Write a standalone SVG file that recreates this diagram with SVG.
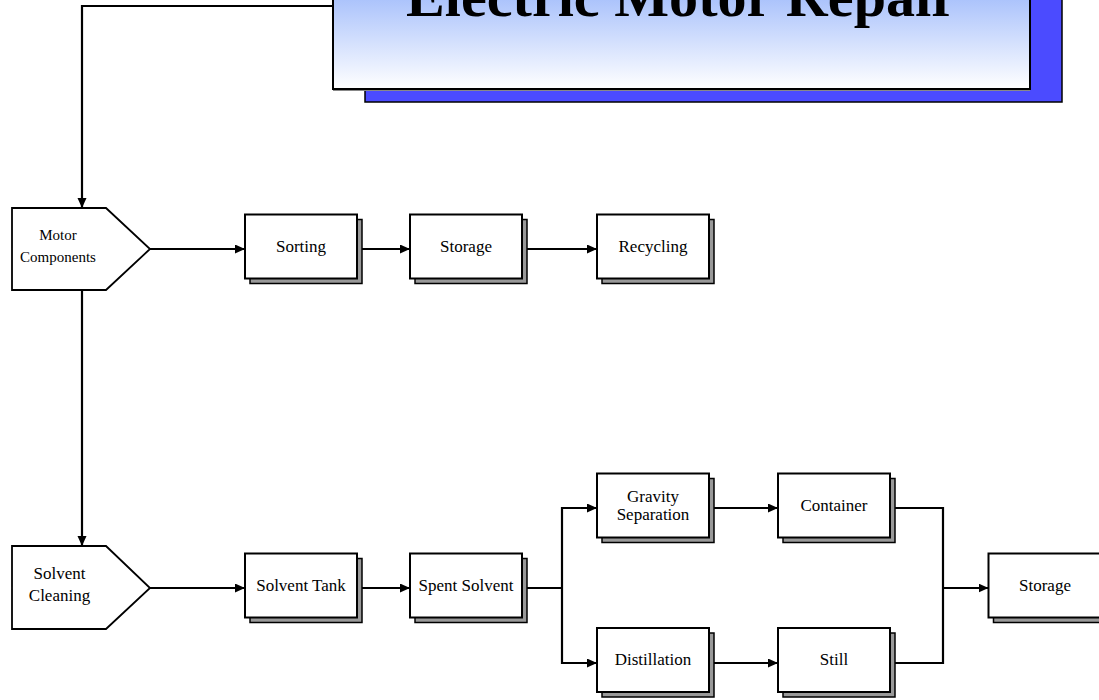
<svg xmlns="http://www.w3.org/2000/svg" width="1099" height="700" viewBox="0 0 1099 700">
<defs>
<linearGradient id="titleGrad" x1="0" y1="0" x2="0" y2="1">
<stop offset="0" stop-color="#a3bdfb"/>
<stop offset="1" stop-color="#ffffff"/>
</linearGradient>
<marker id="arrow" markerUnits="userSpaceOnUse" markerWidth="11" markerHeight="10" refX="10" refY="4.5" orient="auto">
<path d="M0,0 L10,4.5 L0,9 z" fill="#000"/>
</marker>
<style>
.shadow{fill:#999999;stroke:#000;stroke-width:1.5}
.box{fill:#ffffff;stroke:#000;stroke-width:2}
.lbl{font-family:"Liberation Serif","Times New Roman",serif;font-size:17px;fill:#000;text-anchor:middle}
.small{font-size:15px}
.conn{fill:none;stroke:#000;stroke-width:2.2}
.arr{marker-end:url(#arrow)}
</style>
</defs>
<rect width="1099" height="700" fill="#ffffff"/>

<g id="connectors">
<polyline class="conn arr" points="333,6 82,6 82,208"/>
<line class="conn arr" x1="82" y1="290" x2="82" y2="546"/>
<line class="conn arr" x1="150" y1="249" x2="245" y2="249"/>
<line class="conn arr" x1="362" y1="249" x2="410" y2="249"/>
<line class="conn arr" x1="527" y1="249" x2="597" y2="249"/>
<line class="conn arr" x1="150" y1="588" x2="245" y2="588"/>
<line class="conn arr" x1="362" y1="588" x2="410" y2="588"/>
<line class="conn" x1="527" y1="588" x2="562" y2="588"/>
<line class="conn" x1="562" y1="507" x2="562" y2="664"/>
<line class="conn arr" x1="561" y1="508" x2="597" y2="508"/>
<line class="conn arr" x1="561" y1="663" x2="597" y2="663"/>
<line class="conn arr" x1="714" y1="508" x2="778" y2="508"/>
<line class="conn arr" x1="714" y1="663" x2="778" y2="663"/>
<polyline class="conn" points="895,508 943,508 943,663 895,663"/>
<line class="conn arr" x1="943" y1="588" x2="988.5" y2="588"/>
</g>

<g id="title">
<rect x="365" y="-10" width="697" height="112" fill="#4b4bff" stroke="#000" stroke-width="1.5"/>
<rect x="333" y="-10" width="697" height="99" fill="url(#titleGrad)" stroke="#000" stroke-width="2"/>
<line x1="333" y1="90.5" x2="1030" y2="90.5" stroke="#888" stroke-width="1"/>
<text x="681.5" y="16" font-family="'Liberation Serif','Times New Roman',serif" font-weight="bold" font-size="58" text-anchor="middle" textLength="551" lengthAdjust="spacingAndGlyphs">Electric Motor Repair</text>
</g>

<g id="motor-components">
<polygon points="12,208 106,208 150,249 106,290 12,290" fill="#fff" stroke="#000" stroke-width="1.8"/>
<text class="lbl small" x="58" y="240">Motor</text>
<text class="lbl small" x="58" y="262">Components</text>
</g>

<g id="solvent-cleaning">
<polygon points="12,546 106,546 150,588 106,629 12,629" fill="#fff" stroke="#000" stroke-width="1.8"/>
<text class="lbl" x="59.5" y="579">Solvent</text>
<text class="lbl" x="59.5" y="601">Cleaning</text>
</g>

<g id="sorting">
<rect class="shadow" x="250" y="219.5" width="112" height="64"/>
<rect class="box" x="245" y="214.5" width="112" height="64"/>
<text class="lbl" x="301" y="252">Sorting</text>
</g>

<g id="storage-1">
<rect class="shadow" x="415" y="219.5" width="112" height="64"/>
<rect class="box" x="410" y="214.5" width="112" height="64"/>
<text class="lbl" x="466" y="252">Storage</text>
</g>

<g id="recycling">
<rect class="shadow" x="602" y="219.5" width="112" height="64"/>
<rect class="box" x="597" y="214.5" width="112" height="64"/>
<text class="lbl" x="653" y="252">Recycling</text>
</g>

<g id="solvent-tank">
<rect class="shadow" x="250" y="558.5" width="112" height="64"/>
<rect class="box" x="245" y="553.5" width="112" height="64"/>
<text class="lbl" x="301" y="591">Solvent Tank</text>
</g>

<g id="spent-solvent">
<rect class="shadow" x="415" y="558.5" width="112" height="64"/>
<rect class="box" x="410" y="553.5" width="112" height="64"/>
<text class="lbl" x="466" y="591">Spent Solvent</text>
</g>

<g id="gravity-separation">
<rect class="shadow" x="602" y="478.5" width="112" height="64"/>
<rect class="box" x="597" y="473.5" width="112" height="64"/>
<text class="lbl" x="653" y="502">Gravity</text>
<text class="lbl" x="653" y="519.5">Separation</text>
</g>

<g id="container">
<rect class="shadow" x="783" y="478.5" width="112" height="64"/>
<rect class="box" x="778" y="473.5" width="112" height="64"/>
<text class="lbl" x="834" y="510.5">Container</text>
</g>

<g id="distillation">
<rect class="shadow" x="602" y="633" width="112" height="64"/>
<rect class="box" x="597" y="628" width="112" height="64"/>
<text class="lbl" x="653" y="665">Distillation</text>
</g>

<g id="still">
<rect class="shadow" x="783" y="633" width="112" height="64"/>
<rect class="box" x="778" y="628" width="112" height="64"/>
<text class="lbl" x="834" y="665">Still</text>
</g>

<g id="storage-2">
<rect class="shadow" x="993.5" y="558.5" width="112" height="64"/>
<rect class="box" x="988.5" y="553.5" width="112" height="64"/>
<text class="lbl" x="1045" y="590.5">Storage</text>
</g>
</svg>
